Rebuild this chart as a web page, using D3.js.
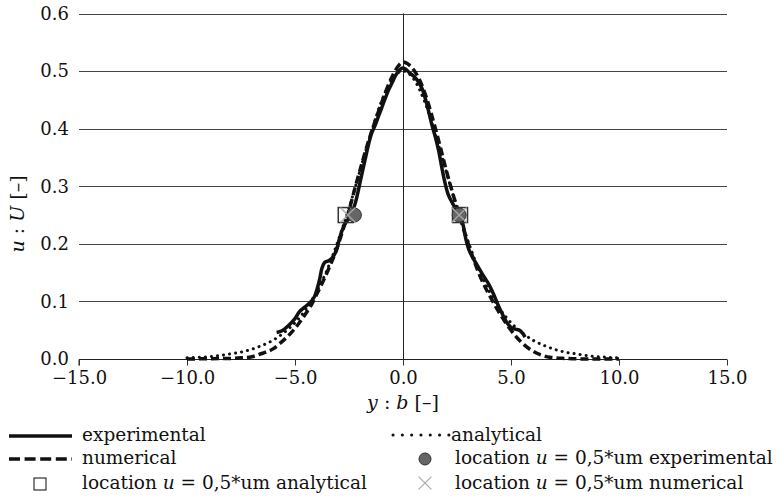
<!DOCTYPE html>
<html>
<head>
<meta charset="utf-8">
<script src="https://cdn.jsdelivr.net/npm/d3@7"></script>
<style>
  body { margin: 0; background: #fff; }
  svg { display: block; }
  text { font-family: "DejaVu Serif", serif; fill: #111; }
</style>
</head>
<body>
<div id="chart"></div>
<script>
// values
var xTicks = [-15, -10, -5, 0, 5, 10, 15];
var yTicks = [0, 0.1, 0.2, 0.3, 0.4, 0.5, 0.6];

// experimental (solid)
var expY = [-5.85, -5.6, -5.3, -5.0, -4.8, -4.55, -4.3, -4.1, -3.95, -3.85, -3.75, -3.62, -3.48, -3.35, -3.2, -3.07, -2.95, -2.8, -2.65, -2.5, -2.35, -2.2, -2.05, -1.9, -1.75, -1.6, -1.45, -1.3, -1.15, -1.0, -0.85, -0.68, -0.5, -0.35, -0.2, -0.05,
            0.1, 0.3, 0.5, 0.7, 0.9, 1.05, 1.2, 1.35, 1.5, 1.65, 1.8, 1.95, 2.1, 2.3, 2.5, 2.65, 2.8, 2.9, 3.05, 3.2, 3.4, 3.6, 3.8, 4.0, 4.2, 4.4, 4.6, 4.8, 5.0, 5.2, 5.4, 5.55, 5.65];
var expU = [0.046, 0.049, 0.058, 0.070, 0.082, 0.090, 0.098, 0.108, 0.125, 0.140, 0.158, 0.168, 0.170, 0.173, 0.180, 0.190, 0.208, 0.225, 0.237, 0.244, 0.255, 0.272, 0.296, 0.322, 0.347, 0.372, 0.392, 0.405, 0.420, 0.435, 0.450, 0.466, 0.480, 0.492, 0.500, 0.505,
            0.504, 0.497, 0.491, 0.482, 0.468, 0.450, 0.428, 0.405, 0.385, 0.362, 0.332, 0.305, 0.285, 0.270, 0.258, 0.250, 0.230, 0.210, 0.190, 0.178, 0.165, 0.152, 0.140, 0.128, 0.112, 0.094, 0.078, 0.064, 0.055, 0.052, 0.050, 0.044, 0.038];

// numerical (dashed)
var numY = [-10, -9, -8, -7.5, -7, -6.5, -6, -5.7, -5.4, -5.1, -4.8, -4.5, -4.2, -4.0, -3.7, -3.4, -3.1, -2.8, -2.5, -2.2, -1.9, -1.6, -1.3, -1.0, -0.7, -0.4, -0.15, 0.0,
            0.2, 0.5, 0.8, 1.1, 1.4, 1.7, 2.0, 2.3, 2.6, 2.9, 3.2, 3.5, 3.8, 4.1, 4.4, 4.7, 5.0, 5.3, 5.6, 6.0, 6.4, 6.8, 7.5, 8.5, 10];
var numU = [0.0, 0.0005, 0.001, 0.002, 0.004, 0.010, 0.018, 0.027, 0.037, 0.049, 0.063, 0.079, 0.097, 0.112, 0.135, 0.160, 0.188, 0.222, 0.258, 0.300, 0.340, 0.378, 0.412, 0.444, 0.474, 0.498, 0.512, 0.516,
            0.513, 0.502, 0.482, 0.452, 0.414, 0.372, 0.328, 0.288, 0.252, 0.214, 0.180, 0.150, 0.125, 0.104, 0.084, 0.066, 0.050, 0.036, 0.025, 0.014, 0.007, 0.003, 0.001, 0.0, 0.0];

// analytical (dotted)
var anaY = [-10, -9.5, -9, -8.5, -8, -7.5, -7, -6.5, -6, -5.5, -5, -4.5, -4, -3.5, -3, -2.5, -2, -1.5, -1, -0.5, 0,
            0.5, 1, 1.5, 2, 2.5, 3, 3.5, 4, 4.5, 5, 5.5, 6, 6.5, 7, 7.5, 8, 8.5, 9, 9.5, 10];
var anaU = [0.002, 0.003, 0.004, 0.006, 0.009, 0.012, 0.017, 0.024, 0.033, 0.046, 0.063, 0.086, 0.117, 0.156, 0.206, 0.262, 0.326, 0.390, 0.447, 0.486, 0.500,
            0.486, 0.447, 0.390, 0.326, 0.262, 0.206, 0.156, 0.117, 0.086, 0.063, 0.046, 0.033, 0.024, 0.017, 0.012, 0.009, 0.006, 0.004, 0.003, 0.002];

// half-value locations
var halfExp = [[-2.25, 0.25], [2.6, 0.25]];
var halfAna = [[-2.65, 0.25], [2.64, 0.25]];
var halfNum = [[-2.55, 0.25], [2.6, 0.25]];

var width = 784, height = 501;

var svg = d3.select("#chart").append("svg")
  .attr("width", width)
  .attr("height", height);

var x = d3.scaleLinear().domain([-15, 15]).range([79, 727]);
var y = d3.scaleLinear().domain([0, 0.6]).range([359, 13.5]);

// horizontal grid
svg.append("g")
  .selectAll("line")
  .data(yTicks.filter(function(d) { return d > 0; }))
  .enter().append("line")
    .attr("x1", x(-15)).attr("x2", x(15))
    .attr("y1", function(d) { return Math.round(y(d)) + 0.5; })
    .attr("y2", function(d) { return Math.round(y(d)) + 0.5; })
    .attr("stroke", "#444")
    .attr("stroke-width", 1);

// vertical line at y/b = 0
svg.append("line")
  .attr("x1", Math.round(x(0)) + 0.5).attr("x2", Math.round(x(0)) + 0.5)
  .attr("y1", y(0.6)).attr("y2", y(0))
  .attr("stroke", "#222");

// y tick labels
svg.append("g")
  .selectAll("text")
  .data(yTicks)
  .enter().append("text")
    .attr("x", 69)
    .attr("y", function(d) { return y(d); })
    .attr("dy", "0.35em")
    .attr("text-anchor", "end")
    .style("font-size", "18px")
    .text(function(d) { return d3.format(".1f")(d); });

// x axis
var xAxis = svg.append("g")
  .attr("transform", "translate(0," + (Math.round(y(0)) + 0.5) + ")")
  .call(d3.axisBottom(x).tickValues(xTicks).tickSize(6).tickPadding(6)
    .tickFormat(function(d) { return d3.format(".1f")(d); }));
xAxis.select(".domain").attr("stroke", "#222").attr("d", "M" + x(-15) + ",6V0H" + x(15));
xAxis.selectAll(".tick line").attr("stroke", "#333");
xAxis.selectAll(".tick text")
  .style("font-family", "DejaVu Serif, serif")
  .style("font-size", "18px")
  .attr("fill", "#111");

// axis titles
svg.append("text")
  .attr("x", x(0))
  .attr("y", 409)
  .attr("text-anchor", "middle")
  .style("font-size", "19px")
  .html('<tspan font-style="italic">y</tspan> : <tspan font-style="italic">b</tspan> [–]');

svg.append("text")
  .attr("transform", "translate(24,214) rotate(-90)")
  .attr("text-anchor", "middle")
  .style("font-size", "19px")
  .html('<tspan font-style="italic">u</tspan> : <tspan font-style="italic">U</tspan> [–]');

// curves
var line = d3.line()
  .x(function(d) { return x(d[0]); })
  .y(function(d) { return y(d[1]); })
  .curve(d3.curveMonotoneX);

function pairs(a, b) { return a.map(function(v, i) { return [v, b[i]]; }); }

svg.append("path")
  .datum(pairs(anaY, anaU))
  .attr("d", line)
  .attr("fill", "none")
  .attr("stroke", "#111")
  .attr("stroke-width", 3)
  .attr("stroke-linecap", "round")
  .attr("stroke-dasharray", "0.1,6");

svg.append("path")
  .datum(pairs(numY, numU))
  .attr("d", line)
  .attr("fill", "none")
  .attr("stroke", "#111")
  .attr("stroke-width", 3.5)
  .attr("stroke-dasharray", "8,4");

svg.append("path")
  .datum(pairs(expY, expU))
  .attr("d", d3.line().x(function(d) { return x(d[0]); }).y(function(d) { return y(d[1]); }).curve(d3.curveCatmullRom))
  .attr("fill", "none")
  .attr("stroke", "#111")
  .attr("stroke-width", 3.5)
  .attr("stroke-linejoin", "round");

// half-value markers
svg.append("g").selectAll("rect")
  .data(halfAna).enter().append("rect")
    .attr("x", function(d) { return x(d[0]) - 7.5; })
    .attr("y", function(d) { return y(d[1]) - 7.5; })
    .attr("width", 15).attr("height", 15)
    .attr("fill", "none").attr("stroke", "#333").attr("stroke-width", 1.5);

svg.append("g").selectAll("circle")
  .data(halfExp).enter().append("circle")
    .attr("cx", function(d) { return x(d[0]); })
    .attr("cy", function(d) { return y(d[1]); })
    .attr("r", 7)
    .attr("fill", "#666").attr("stroke", "#333").attr("stroke-width", 1);

var cross = d3.symbol().type(d3.symbolX).size(150);
svg.append("g").selectAll("path")
  .data(halfNum).enter().append("path")
    .attr("transform", function(d) { return "translate(" + x(d[0]) + "," + y(d[1]) + ")"; })
    .attr("d", cross)
    .attr("fill", "#aaa").attr("stroke", "#aaa").attr("stroke-width", 1.5)
    .attr("opacity", 0.9);

// legend
var leg = svg.append("g").style("font-size", "18.5px");

leg.append("line").attr("x1", 9).attr("x2", 72).attr("y1", 436).attr("y2", 436)
  .attr("stroke", "#111").attr("stroke-width", 3.5);
leg.append("text").attr("x", 82).attr("y", 441).text("experimental");

leg.append("line").attr("x1", 9).attr("x2", 72).attr("y1", 459).attr("y2", 459)
  .attr("stroke", "#111").attr("stroke-width", 3.5).attr("stroke-dasharray", "11,4.6");
leg.append("text").attr("x", 82).attr("y", 464).text("numerical");

leg.append("rect").attr("x", 34).attr("y", 478).attr("width", 12).attr("height", 12)
  .attr("fill", "none").attr("stroke", "#333").attr("stroke-width", 1.2);
leg.append("text").attr("x", 82).attr("y", 489)
  .html('location <tspan font-style="italic">u</tspan> = 0,5*um analytical');

leg.append("line").attr("x1", 393).attr("x2", 449).attr("y1", 435).attr("y2", 435)
  .attr("stroke", "#111").attr("stroke-width", 3).attr("stroke-linecap", "round")
  .attr("stroke-dasharray", "0.1,9.2");
leg.append("text").attr("x", 451).attr("y", 441).text("analytical");

leg.append("circle").attr("cx", 425).attr("cy", 459).attr("r", 6)
  .attr("fill", "#666").attr("stroke", "#333");
leg.append("text").attr("x", 455).attr("y", 464)
  .html('location <tspan font-style="italic">u</tspan> = 0,5*um experimental');

leg.append("path").attr("transform", "translate(425,483)")
  .attr("d", d3.symbol().type(d3.symbolX).size(110))
  .attr("fill", "#aaa").attr("stroke", "#aaa").attr("stroke-width", 1.2);
leg.append("text").attr("x", 455).attr("y", 489)
  .html('location <tspan font-style="italic">u</tspan> = 0,5*um numerical');
</script>
</body>
</html>
